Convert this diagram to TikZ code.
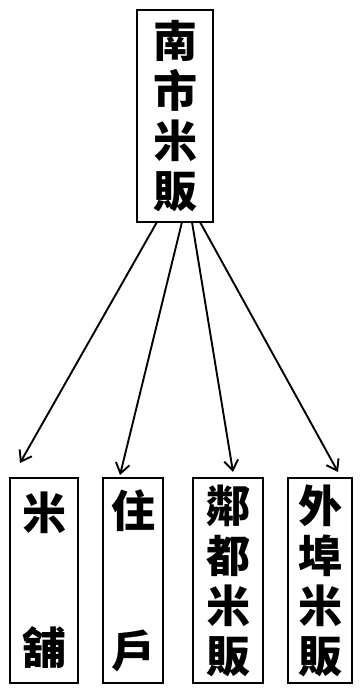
\documentclass[tikz,border=0pt]{standalone}
\usepackage{fontspec}
\newfontfamily\cjk{Noto Sans CJK TC}
\usetikzlibrary{arrows.meta}
\begin{document}
\begin{tikzpicture}[x=1pt,y=1pt,
  box/.style={draw, line width=2.6pt, rectangle, inner sep=0pt, align=center,
    font=\cjk\bfseries\fontsize{44}{50}\selectfont},
  conn/.style={line width=1.9pt, -{Straight Barb[length=10pt,width=14pt,line width=1.9pt]}}]
\useasboundingbox (0,0) rectangle (361,693);
\node[box, minimum width=76, minimum height=212] (top) at (175,577) {南\\市\\米\\販};
\node[box, minimum width=68, minimum height=205] (b1) at (44,112.5) {米\\[85pt]舖};
\node[box, minimum width=60, minimum height=205] (b2) at (133,112.5) {住\\[90pt]戶};
\node[box, minimum width=70, minimum height=205] (b3) at (228,112.5) {鄰\\都\\米\\販};
\node[box, minimum width=64, minimum height=205] (b4) at (320,112.5) {外\\埠\\米\\販};
\coordinate (s1) at (157,471);
\coordinate (s2) at (182,471);
\coordinate (s3) at (192,471);
\coordinate (s4) at (200,471);
\coordinate (e1) at (20,230);
\coordinate (e2) at (120,218);
\coordinate (e3) at (233,221);
\coordinate (e4) at (338,221);
\draw[conn] (s1) -- (e1);
\draw[conn] (s2) -- (e2);
\draw[conn] (s3) -- (e3);
\draw[conn] (s4) -- (e4);
\end{tikzpicture}
\end{document}
